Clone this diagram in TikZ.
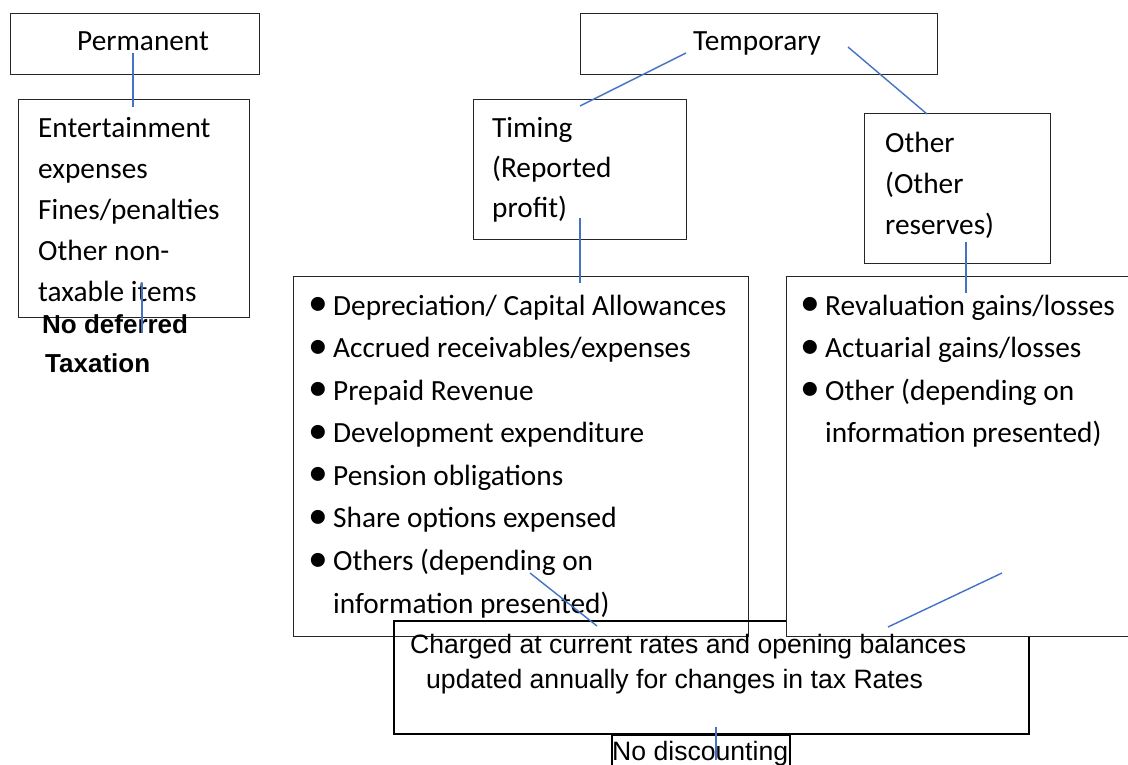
\documentclass[tikz,border=0pt]{standalone}
\usepackage{fontspec}
\setmainfont{Carlito}
\newfontfamily\arialfont{Liberation Sans}
\usetikzlibrary{positioning}

\definecolor{linkblue}{HTML}{4472C4}
\newcommand{\bulletitem}{\llap{\raisebox{-0.5pt}{\scalebox{1.35}{\textbullet}}\hspace{5pt}}}
\newcommand{\boxlines}[1]{\begin{tabular}[t]{@{}l@{}}#1\end{tabular}}

\begin{document}
\begin{tikzpicture}[
    x=1pt, y=-1pt,
    box/.style={
        draw=black!85, line width=1pt,
        anchor=north west, inner sep=0pt
    },
    heavybox/.style={box, draw=black, line width=1.6pt},
    boxtext/.style={
        anchor=base west, inner sep=0pt,
        font=\fontsize{29.3}{41}\selectfont
    },
    listtext/.style={boxtext, font=\fontsize{29.3}{42.6}\selectfont},
    notetext/.style={
        anchor=base west, inner sep=0pt,
        font=\arialfont\fontsize{26.6}{35}\selectfont
    },
    link/.style={draw=linkblue, line width=1.4pt}
]
    \useasboundingbox (0,0) rectangle (1128,765);

    % Boxes ===========================
    \node[box, minimum width=249, minimum height=61] (perm) at (10,13) {};
    \node[box, minimum width=357, minimum height=61] (temp) at (580,13) {};
    \node[box, minimum width=231, minimum height=218] (ent) at (18,99) {};
    \node[box, minimum width=213, minimum height=140] (timing) at (473,99) {};
    \node[box, minimum width=186, minimum height=150] (other) at (864,113) {};
    \node[box, minimum width=455, minimum height=360] (tlist) at (293,276) {};
    \node[heavybox, minimum width=635, minimum height=113] (charged) at (393,620) {};
    \node[box, fill=white, minimum width=360, minimum height=360] (olist) at (786,276) {};
    \node[heavybox, minimum width=178, minimum height=45] (nodisc) at (611,734) {};

    % Texts ===========================
    \node[boxtext] (permtxt) at (77,51) {Permanent};
    \node[boxtext] (temptxt) at (693,51) {Temporary};
    \node[boxtext] (enttxt) at (38,138) {\boxlines{
        Entertainment\\
        expenses\\
        Fines/penalties\\
        Other non-\\
        taxable items}};
    \node[notetext, font=\arialfont\bfseries\fontsize{26}{39}\selectfont] (nodeferred) at (42,333) {\boxlines{
        No deferred\\
        \hspace*{3pt}Taxation}};
    \node[boxtext, font=\fontsize{29.3}{40}\selectfont] (timingtxt) at (492,138) {\boxlines{
        Timing\\
        (Reported\\
        profit)}};
    \node[boxtext] (othertxt) at (885,153) {\boxlines{
        Other\\
        (Other\\
        reserves)}};
    \node[listtext] (tlisttxt) at (333,315) {\boxlines{
        \bulletitem Depreciation/ Capital Allowances\\
        \bulletitem Accrued receivables/expenses\\
        \bulletitem Prepaid Revenue\\
        \bulletitem Development expenditure\\
        \bulletitem Pension obligations\\
        \bulletitem Share options expensed\\
        \bulletitem Others (depending on\\
        information presented)}};
    \node[listtext] (olisttxt) at (825,315) {\boxlines{
        \bulletitem Revaluation gains/losses\\
        \bulletitem Actuarial gains/losses\\
        \bulletitem Other (depending on\\
        information presented)}};
    \node[notetext] (chargedtxt) at (410,653) {\boxlines{
        Charged at current rates and opening balances\\
        \hspace*{16pt}updated annually for changes in tax Rates}};
    \node[notetext] (nodisctxt) at (612,760) {No discounting};

    % Connector ends ====================
    \coordinate (perm-a) at (133,53);
    \coordinate (ent-top) at (133,107);
    \coordinate (ent-a) at (142,283);
    \coordinate (nodeferred-a) at (142,333);
    \coordinate (temp-l) at (686,53);
    \coordinate (timing-top) at (580,106);
    \coordinate (temp-r) at (848,47);
    \coordinate (other-top) at (927,114);
    \coordinate (timing-a) at (580,218);
    \coordinate (tlist-top) at (580,283);
    \coordinate (other-a) at (966,242);
    \coordinate (olist-top) at (966,293);
    \coordinate (tlist-a) at (530,573);
    \coordinate (charged-l) at (597,626);
    \coordinate (olist-a) at (1002,573);
    \coordinate (charged-r) at (888,627);
    \coordinate (charged-a) at (716,727);
    \coordinate (nodisc-a) at (716,760);

    % Connectors ====================
    \draw[link] (perm-a) -- (ent-top);
    \draw[link] (ent-a) -- (nodeferred-a);
    \draw[link] (temp-l) -- (timing-top);
    \draw[link] (temp-r) -- (other-top);
    \draw[link] (timing-a) -- (tlist-top);
    \draw[link] (other-a) -- (olist-top);
    \draw[link] (tlist-a) -- (charged-l);
    \draw[link] (olist-a) -- (charged-r);
    \draw[link] (charged-a) -- (nodisc-a);

\end{tikzpicture}
\end{document}
